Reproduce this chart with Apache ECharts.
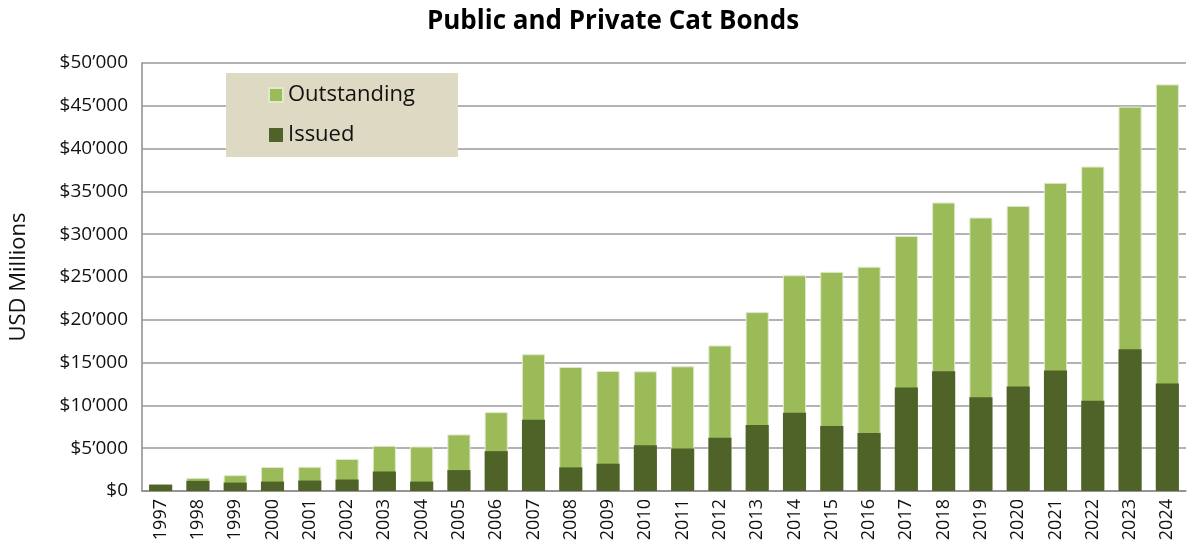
<!DOCTYPE html>
<html>
<head>
<meta charset="utf-8">
<script src="https://cdn.jsdelivr.net/npm/echarts@6/dist/echarts.min.js"></script>
<style>
  html, body { margin: 0; padding: 0; background: #ffffff; }
  #chart { width: 1187px; height: 546px; }
</style>
</head>
<body>
<div id="chart"></div>
<script>
const YEARS = ["1997", "1998", "1999", "2000", "2001", "2002", "2003", "2004", "2005", "2006",
  "2007", "2008", "2009", "2010", "2011", "2012", "2013", "2014", "2015", "2016",
  "2017", "2018", "2019", "2020", "2021", "2022", "2023", "2024"];

// USD millions
const OUTSTANDING = [750, 1540, 1850, 2800, 2830, 3740, 5280, 5200, 6610, 9210,
  15980, 14490, 14020, 13980, 14570, 17000, 20900, 25200, 25600, 26200,
  29800, 33700, 31950, 33300, 36000, 37900, 44900, 47500];

const ISSUED = [750, 1180, 980, 1100, 1220, 1340, 2280, 1100, 2440, 4650,
  8310, 2760, 3190, 5350, 4960, 6220, 7720, 9130, 7600, 6770,
  12090, 13980, 10940, 12200, 14090, 10550, 16570, 12560];

const COLORS = {
  outstanding: "#9bbb59",
  issued: "#4f6228",
};

const FONT = "'Open Sans', 'Noto Sans', sans-serif";

function formatDollars(value) {
  if (value === 0) return "$0";
  return `$${value / 1000}\u2019000`;
}

const chart = echarts.init(document.getElementById("chart"), null, { renderer: "canvas" });

chart.setOption({
  backgroundColor: "#ffffff",
  animation: false,
  title: {
    text: "Public and Private Cat Bonds",
    left: 608,
    top: 4,
    textAlign: "center",
    textStyle: {
      fontFamily: FONT,
      fontSize: 26,
      fontWeight: "bold",
      color: "#000000",
    },
  },
  legend: {
    orient: "vertical",
    left: 226,
    top: 73,
    padding: [11, 43, 11, 42],
    itemGap: 18,
    itemWidth: 14,
    itemHeight: 14,
    icon: "rect",
    backgroundColor: "#ddd9c3",
    data: ["Outstanding", "Issued"],
    textStyle: {
      fontFamily: FONT,
      fontSize: 22,
      lineHeight: 20,
      color: "#111111",
    },
  },
  grid: {
    left: 141,
    right: 1,
    top: 63,
    bottom: 55,
    containLabel: false,
  },
  xAxis: {
    type: "category",
    data: YEARS,
    axisTick: { show: false },
    axisLine: { lineStyle: { color: "#8c8c8c", width: 1.5 } },
    axisLabel: {
      rotate: 90,
      margin: 8,
      fontFamily: FONT,
      fontSize: 18,
      color: "#111111",
    },
  },
  yAxis: {
    type: "value",
    min: 0,
    max: 50000,
    interval: 5000,
    name: "USD Millions",
    nameLocation: "middle",
    nameRotate: 90,
    nameGap: 112,
    nameTextStyle: {
      fontFamily: FONT,
      fontSize: 22,
      color: "#111111",
    },
    axisLine: { show: true, lineStyle: { color: "#8c8c8c", width: 1.5 } },
    axisTick: { show: false },
    axisLabel: {
      margin: 14,
      fontFamily: FONT,
      fontSize: 19,
      color: "#111111",
      formatter: formatDollars,
    },
    splitLine: {
      lineStyle: { color: "#9a9a9a", width: 1.5 },
    },
  },
  series: [
    {
      name: "Outstanding",
      type: "bar",
      data: OUTSTANDING,
      barWidth: "62%",
      barGap: "-100%",
      itemStyle: {
        color: COLORS.outstanding,
        borderColor: "#dfe9cc",
        borderWidth: 1,
      },
    },
    {
      name: "Issued",
      type: "bar",
      data: ISSUED,
      barWidth: "62%",
      itemStyle: {
        color: COLORS.issued,
      },
    },
  ],
});
</script>
</body>
</html>
